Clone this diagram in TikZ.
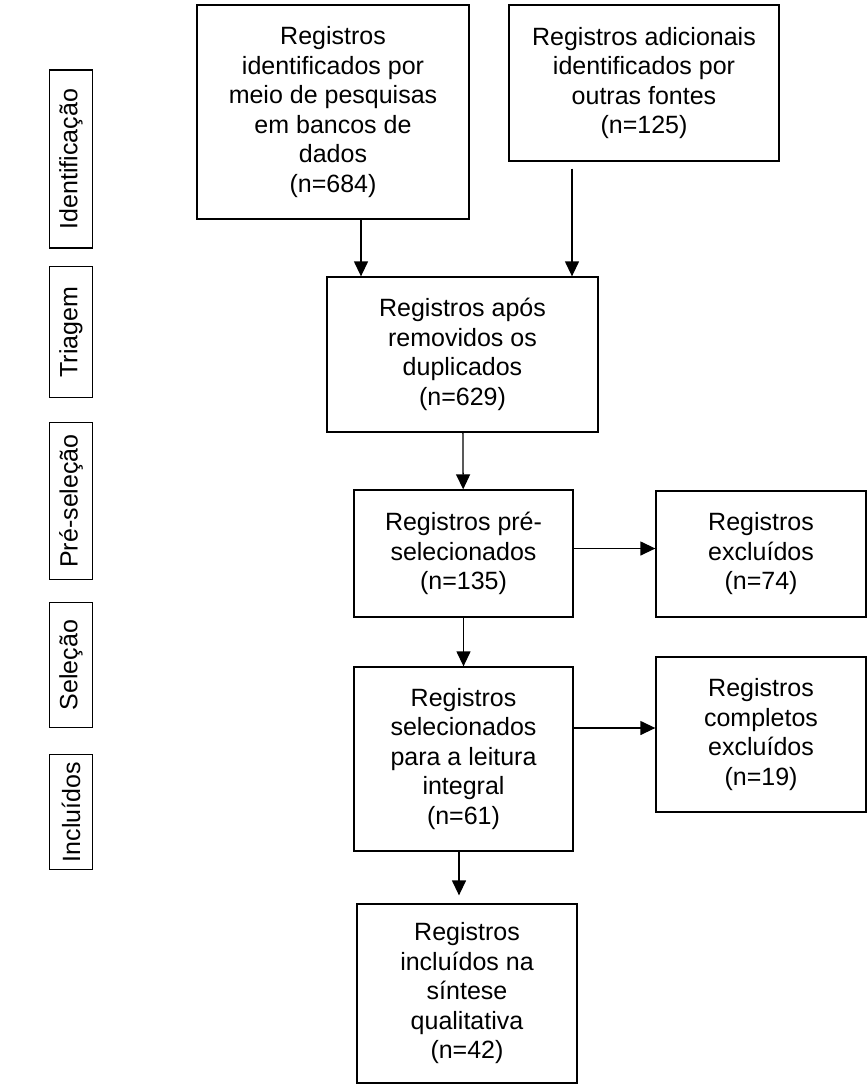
\documentclass[tikz,border=0pt]{standalone}
\usepackage{fontspec}
\setmainfont{Liberation Sans}
\usetikzlibrary{arrows.meta}
\tikzset{gbox/.style={
    rectangle,
    draw,
    line width=1.3pt,
    align=center,
    inner sep=0pt,
    font=\fontsize{25}{29.5}\selectfont
  },
  sidebox/.style={gbox,rotate=90,minimum height=43pt},
  flow/.style={line width=1.3pt,-{Triangle[length=15pt,width=14pt]}},
}
\begin{document}
\begin{tikzpicture}[x=1pt,y=-1pt]
  \useasboundingbox (0,0) rectangle (867,1087);
  % stage labels
  \node [sidebox,minimum width=178pt] (ident) at (71,159) {Identificação};
  \node [sidebox,minimum width=131pt] (triag) at (71,332) {Triagem};
  \node [sidebox,minimum width=157pt] (presel) at (71,501) {Pré-seleção};
  \node [sidebox,minimum width=125pt] (selec) at (71,665) {Seleção};
  \node [sidebox,minimum width=115pt] (incl) at (71,812) {Incluídos};
  % flow boxes
  \node [gbox,minimum width=272pt,minimum height=214pt] (db) at (333,112)
    {Registros\\identificados por\\meio de pesquisas\\em bancos de\\dados\\(n=684)};
  \node [gbox,minimum width=270pt,minimum height=156pt] (other) at (644,83)
    {Registros adicionais\\identificados por\\outras fontes\\(n=125)};
  \node [gbox,minimum width=271pt,minimum height=155pt] (dup) at (462.5,354.5)
    {Registros após\\removidos os\\duplicados\\(n=629)};
  \node [gbox,minimum width=219pt,minimum height=127pt] (pre) at (463.5,553.5)
    {Registros pré-\\selecionados\\(n=135)};
  \node [gbox,minimum width=210pt,minimum height=126pt] (excl) at (761,554)
    {Registros\\excluídos\\(n=74)};
  \node [gbox,minimum width=219pt,minimum height=184pt] (sel) at (463.5,759)
    {Registros\\selecionados\\para a leitura\\integral\\(n=61)};
  \node [gbox,minimum width=210pt,minimum height=155pt] (full) at (761,734.5)
    {Registros\\completos\\excluídos\\(n=19)};
  \node [gbox,minimum width=220pt,minimum height=179pt] (inc) at (467,993.5)
    {Registros\\incluídos na\\síntese\\qualitativa\\(n=42)};
  % connectors
  \draw[flow] ([xshift=28pt]db.south) -- ([xshift=28pt]db.south |- dup.north);
  \draw[flow] ([xshift=-72pt,yshift=-7pt]other.south) -- ([xshift=-72pt]other.south |- dup.north);
  \draw[flow] (dup) -- (pre);
  \draw[flow] ([yshift=5pt]pre.east) -- ([yshift=5pt]pre.east -| excl.west);
  \draw[flow] (pre) -- (sel);
  \draw[flow] ([yshift=31pt]sel.east) -- ([yshift=31pt]sel.east -| full.west);
  \draw[flow,shorten >=8pt] ([xshift=-4.5pt]sel.south) -- ([xshift=-4.5pt]sel.south |- inc.north);
\end{tikzpicture}
\end{document}
